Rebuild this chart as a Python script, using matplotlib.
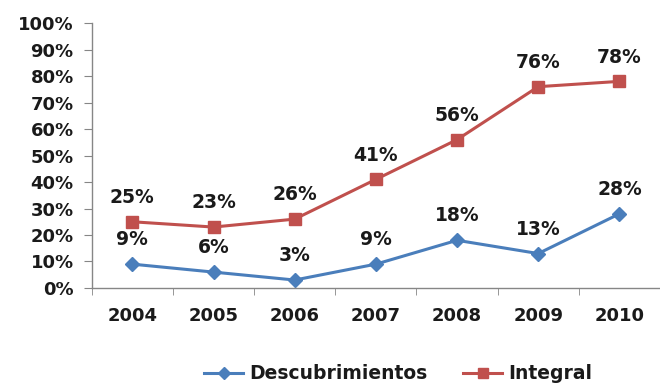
import numpy as np
import matplotlib.pyplot as plt
from matplotlib.ticker import PercentFormatter

plt.rcParams['font.family'] = ['DejaVu Sans']
plt.rcParams['font.weight'] = 'bold'

years = ["2004", "2005", "2006", "2007", "2008", "2009", "2010"]
descubrimientos = [9, 6, 3, 9, 18, 13, 28]
integral = [25, 23, 26, 41, 56, 76, 78]

BLUE = "#4A7EBB"
RED = "#C0504D"
GREY = "#868686"

fig = plt.figure(figsize=(6.6, 3.85), dpi=100)
ax = fig.add_axes([0.139, 0.252, 0.861, 0.688])

x = np.arange(len(years))
ax.plot(x, descubrimientos, color=BLUE, lw=2.2, marker="D", ms=7.5,
        label="Descubrimientos")
ax.plot(x, integral, color=RED, lw=2.2, marker="s", ms=8.5, label="Integral")

# value labels above each point
for series in (descubrimientos, integral):
    for xi, v in zip(x, series):
        ax.annotate(f"{v}%", (xi, v), xytext=(0, 17.5), textcoords="offset points",
                    ha="center", va="center", fontsize=13.5, fontweight="bold",
                    color="#1a1a1a")

ax.set_ylim(0, 100)
ax.set_yticks(np.arange(0, 101, 10))
ax.yaxis.set_major_formatter(PercentFormatter(decimals=0))
ax.set_xlim(-0.5, 6.34)
ax.set_xticks(x)
ax.set_xticklabels(years)
ax.set_xticks(np.arange(-0.5, len(years)), minor=True)
ax.tick_params(axis="x", which="major", length=0, pad=14, labelsize=13,
               labelcolor="#1a1a1a")
ax.tick_params(axis="x", which="minor", length=5, color=GREY)
ax.tick_params(axis="y", length=6, color=GREY, labelsize=13, pad=7,
               labelcolor="#1a1a1a")

for side in ("top", "right"):
    ax.spines[side].set_visible(False)
for side in ("left", "bottom"):
    ax.spines[side].set_color(GREY)
    ax.spines[side].set_linewidth(1.0)

fig.legend(loc="center", bbox_to_anchor=(0.603, 0.029), ncol=2,
           frameon=False, handlelength=2.1, handletextpad=0.3,
           columnspacing=1.9, markerscale=0.85,
           prop={"weight": "bold", "size": 13.5}, labelcolor="#1a1a1a")

fig.savefig("out.png", dpi=100)
